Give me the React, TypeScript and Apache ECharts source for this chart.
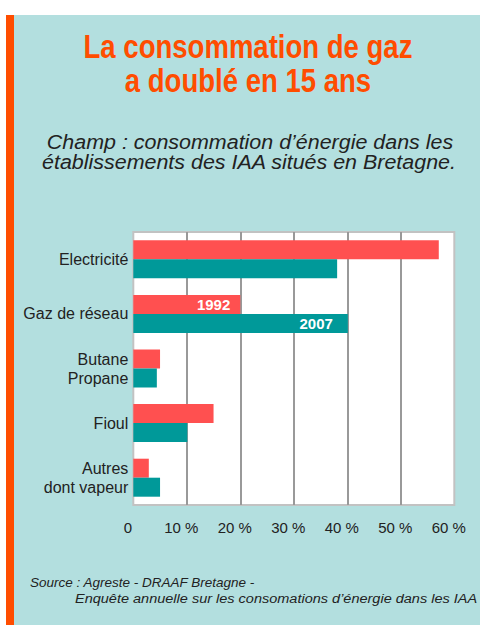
import React, { useEffect, useRef } from "react";
import * as echarts from "echarts";

const categories = ["Electricité", "Gaz de réseau", "Butane\nPropane", "Fioul", "Autres\ndont vapeur"];
const values1992 = [57.1, 20, 5, 15, 2.9];
const values2007 = [38.1, 40.1, 4.4, 10.1, 5];
const xTicks = [0, 10, 20, 30, 40, 50, 60];
const labelledIndex = 1;

const PANEL = "#b3dfdf";
const ORANGE = "#ff4d00";
const RED = "#ff5050";
const TEAL = "#009999";

function txt(text: string, x: number, y: number, font: string, fill: string, align: string, scaleX: number) {
  return {
    type: "text",
    x,
    y,
    scaleX,
    style: { text, font, fill, textAlign: align, textVerticalAlign: "middle" },
  };
}

export default function App() {
  const ref = useRef<HTMLDivElement>(null);
  useEffect(() => {
    if (!ref.current) return;
    const chart = echarts.init(ref.current, null, { renderer: "svg" });
    const mkData = (vals: number[], name: string, dist: number) =>
      vals.map((v, i) =>
        i === labelledIndex
          ? {
              value: v,
              label: {
                show: true,
                position: "insideRight",
                distance: dist,
                formatter: name,
                color: "#ffffff",
                fontWeight: "bold",
                fontSize: 15,
                fontFamily: "Liberation Sans, Arial, sans-serif",
              },
            }
          : v
      );
    const titleFont = "bold 33px 'Liberation Sans', Arial, sans-serif";
    const subFont = "italic 19.5px 'Liberation Sans', Arial, sans-serif";
    const srcFont = "italic 13.5px 'Liberation Sans', Arial, sans-serif";
    chart.setOption({
      animation: false,
      backgroundColor: "#ffffff",
      graphic: [
        { type: "rect", shape: { x: 14, y: 15, width: 466, height: 610 }, style: { fill: PANEL }, z: -10 },
        { type: "rect", shape: { x: 6, y: 15, width: 8, height: 610 }, style: { fill: ORANGE }, z: -10 },
        txt("La consommation de gaz", 248, 46, titleFont, ORANGE, "center", 0.835),
        txt("a doublé en 15 ans", 248, 80.5, titleFont, ORANGE, "center", 0.835),
        txt("Champ : consommation d’énergie dans les", 250, 141.5, subFont, "#222222", "center", 1.1),
        txt("établissements des IAA situés en Bretagne.", 249, 161.5, subFont, "#222222", "center", 1.1),
        txt("Source : Agreste - DRAAF Bretagne -", 30, 582.6, srcFont, "#222222", "left", 1.0),
        txt("Enquête annuelle sur les consomations d’énergie dans les IAA", 75, 598.6, srcFont, "#222222", "left", 1.075),
      ],
      grid: {
        left: 133.3,
        right: 25.7,
        top: 232,
        bottom: 120,
        show: true,
        backgroundColor: "#ffffff",
        borderColor: "#c2c2c2",
        borderWidth: 2,
      },
      xAxis: {
        type: "value",
        min: xTicks[0],
        max: xTicks[xTicks.length - 1],
        interval: 10,
        axisLine: { show: false },
        axisTick: { show: false },
        splitLine: { show: true, showMinLine: false, showMaxLine: false, lineStyle: { color: "#999999", width: 2 } },
        axisLabel: {
          margin: 15,
          fontSize: 15,
          color: "#222222",
          fontFamily: "Liberation Sans, Arial, sans-serif",
          padding: [0, 11, 0, 0],
          formatter: (v: number) => (v === 0 ? "0" : v + " %"),
        },
      },
      yAxis: {
        type: "category",
        data: categories,
        inverse: true,
        axisLine: { show: false },
        axisTick: { show: false },
        axisLabel: {
          margin: 5,
          fontSize: 16,
          lineHeight: 19,
          color: "#222222",
          fontFamily: "Liberation Sans, Arial, sans-serif",
          align: "right",
        },
      },
      series: [
        {
          name: "1992",
          type: "bar",
          data: mkData(values1992, "1992", 10),
          barWidth: 19,
          barGap: "0%",
          itemStyle: { color: RED },
        },
        {
          name: "2007",
          type: "bar",
          data: mkData(values2007, "2007", 15),
          barWidth: 19,
          barGap: "0%",
          itemStyle: { color: TEAL },
        },
      ],
    });
    return () => chart.dispose();
  }, []);
  return <div ref={ref} style={{ position: "fixed", left: 0, top: 0, width: 480, height: 625 }} />;
}
